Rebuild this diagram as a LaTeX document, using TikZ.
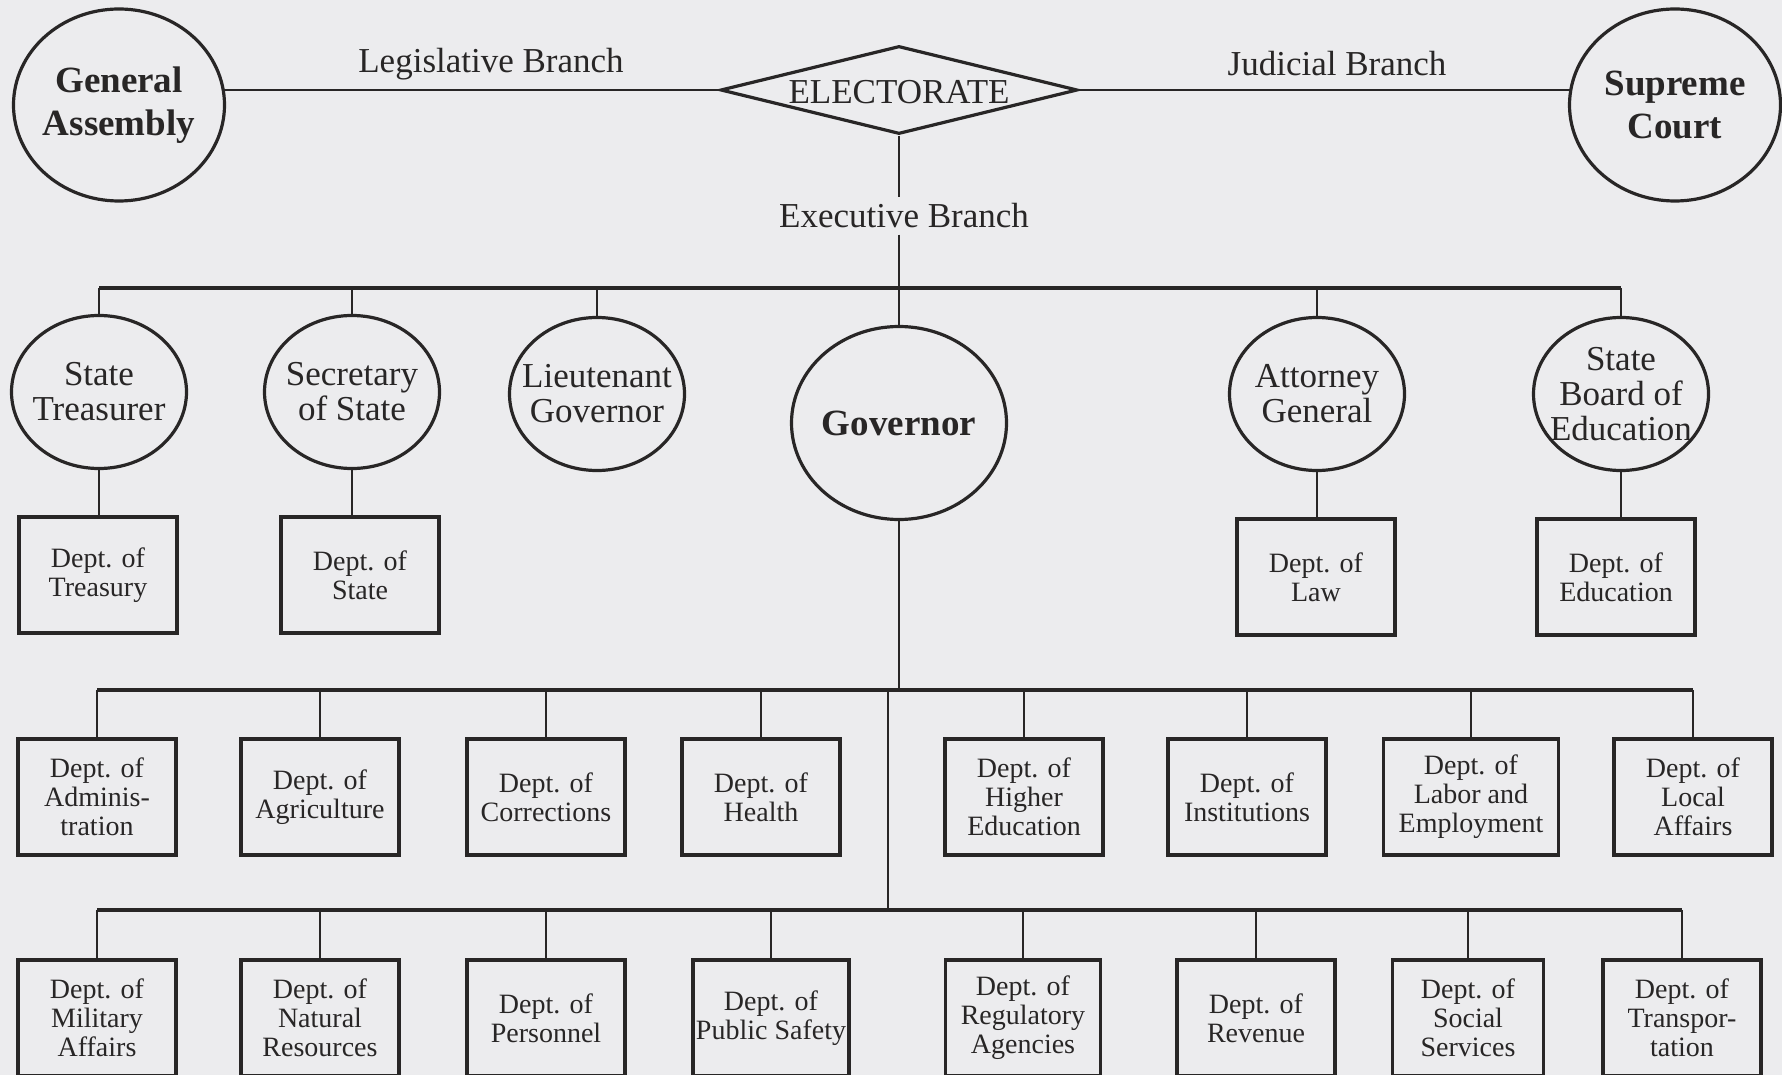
\documentclass[tikz,border=0pt]{standalone}
\usepackage{fontspec}
\setmainfont{Liberation Serif}
\usepackage{tikz}
\usetikzlibrary{shapes.geometric}
\definecolor{paper}{RGB}{236,236,238}
\definecolor{ink}{RGB}{40,38,38}

\begin{document}
\begin{tikzpicture}[x=0.5pt,y=-0.5pt,
  office/.style={ellipse,draw=ink,text=ink,line width=1.6pt,inner xsep=-10pt,inner ysep=0pt,align=center,minimum width=87.5pt,minimum height=76.5pt,font=\fontsize{17.5}{17.5}\selectfont},
  chief/.style={office,minimum width=105.5pt,minimum height=96pt,font=\bfseries\fontsize{18.5}{21.5}\selectfont},
  dept/.style={rectangle,draw=ink,text=ink,line width=1.7pt,inner sep=0pt,align=center,minimum width=79pt,minimum height=58pt,font=\fontsize{14}{14.5}\selectfont},
  branch/.style={text=ink,inner sep=3pt,font=\fontsize{17.5}{17.5}\selectfont},
  vote/.style={diamond,aspect=4.2,draw=ink,text=ink,line width=1.6pt,inner sep=0pt,text height=14pt,text depth=0pt,minimum width=178.5pt,minimum height=44pt,font=\fontsize{17.5}{17.5}\selectfont},
  link/.style={draw=ink,line width=1.4pt},
  bus/.style={draw=ink,line width=2pt}]
\path[use as bounding box,fill=paper] (0,0) rectangle (1782,1075);
\clip (0,0) rectangle (1782,1075);

\node[chief] (ga) at (119,105) {General\\Assembly};
\node[chief] (sc) at (1675,105) {Supreme\\Court};
\node[vote] (elect) at (899,90) {ELECTORATE};
\node[branch] (leg) at (491,64) {Legislative Branch};
\node[branch] (jud) at (1337,64) {Judicial Branch};
\node[branch] (exe) at (904,216) {Executive Branch};

\node[office] (trs) at (99,392) {State\\Treasurer};
\node[office] (sos) at (352,392) {Secretary\\of State};
\node[office] (ltg) at (597,394) {Lieutenant\\Governor};
\node[chief,minimum width=107.5pt,minimum height=96.5pt] (gov) at (899,423) {Governor};
\node[office] (atg) at (1317,394) {Attorney\\General};
\node[office] (sbe) at (1621,394) {State\\Board of\\Education};

\node[dept] (trsd) at (98,575) {Dept. of\\Treasury};
\node[dept] (sosd) at (360,575) {Dept. of\\State};
\node[dept] (atgd) at (1316,577) {Dept. of\\Law};
\node[dept] (sbed) at (1616,577) {Dept. of\\Education};

\node[dept] (adm) at (97,797) {Dept. of\\Adminis-\\tration};
\node[dept] (agr) at (320,797) {Dept. of\\Agriculture};
\node[dept] (cor) at (546,797) {Dept. of\\Corrections};
\node[dept] (hlt) at (761,797) {Dept. of\\Health};
\node[dept] (hed) at (1024,797) {Dept. of\\Higher\\Education};
\node[dept] (ins) at (1247,797) {Dept. of\\Institutions};
\node[dept,minimum width=87.5pt] (lab) at (1471,797) {Dept. of\\Labor and\\Employment};
\node[dept] (loc) at (1693,797) {Dept. of\\Local\\Affairs};

\node[dept] (mil) at (97,1018) {Dept. of\\Military\\Affairs};
\node[dept] (nat) at (320,1018) {Dept. of\\Natural\\Resources};
\node[dept] (per) at (546,1018) {Dept. of\\Personnel};
\node[dept,minimum width=78pt] (pub) at (771,1018) {Dept. of\\Public Safety};
\node[dept,minimum width=77.5pt] (reg) at (1023,1018) {Dept. of\\Regulatory\\Agencies};
\node[dept] (rev) at (1256,1018) {Dept. of\\Revenue};
\node[dept,minimum width=75.5pt] (soc) at (1468,1018) {Dept. of\\Social\\Services};
\node[dept] (trn) at (1682,1018) {Dept. of\\Transpor-\\tation};

\coordinate (bus1) at (899,288);
\coordinate (bus2) at (899,690);
\coordinate (bus3) at (888,910);

\draw[link] (elect.west) -- (ga.10 |- elect.west);
\draw[link] (elect.east) -- (sc.170 |- elect.east);
\draw[link] (elect.south) -- (elect.south |- exe.north);
\draw[link] (exe.south -| elect.south) -- (gov.north);

\draw[bus] (trs.north |- bus1) -- (sbe.north |- bus1);
\foreach \o in {trs,sos,ltg,atg,sbe}
  \draw[link] (\o.north |- bus1) -- (\o.north);
\foreach \o in {trs,sos,atg,sbe}
  \draw[link] (\o.south) -- (\o.south |- \o d.north);

\draw[link] (gov.south) -- (bus2);
\draw[bus] (adm.north |- bus2) -- (loc.north |- bus2);
\foreach \d in {adm,agr,cor,hlt,hed,ins,lab,loc}
  \draw[link] (\d.north |- bus2) -- (\d.north);

\draw[link] (bus3 |- bus2) -- (bus3);
\draw[bus] (mil.north |- bus3) -- (trn.north |- bus3);
\foreach \d in {mil,nat,per,pub,reg,rev,soc,trn}
  \draw[link] (\d.north |- bus3) -- (\d.north);
\end{tikzpicture}
\end{document}
